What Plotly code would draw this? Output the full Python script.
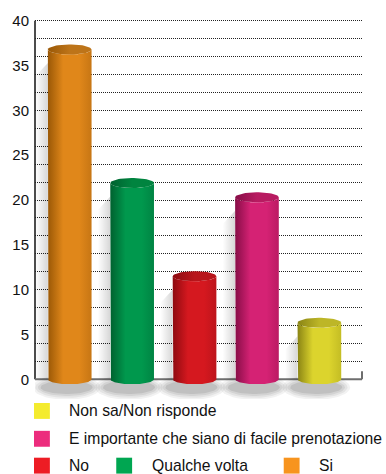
import numpy as np
import plotly.graph_objects as go

# Survey answers (percent), one cylinder per answer
categories = ["Si", "Qualche volta", "No",
              "E importante che siano di facile prenotazione",
              "Non sa/Non risponde"]
values = [36.8, 21.9, 11.5, 20.3, 6.3]

# Cylinder shading: (dark left edge, highlight, right edge, lid)
bar_shades = [
    ("#9a5806", "#e0871a", "#c77614", "#bd7419"),
    ("#00612f", "#00984d", "#008443", "#00843f"),
    ("#8e0a10", "#d5181f", "#bd141b", "#b8151b"),
    ("#870d47", "#d52274", "#bb1a63", "#b81b61"),
    ("#8a8414", "#dcd42d", "#c4bd24", "#bdb627"),
]
legend_colors = {
    "Si": "#f7941e",
    "Qualche volta": "#00a651",
    "No": "#ed1c24",
    "E importante che siano di facile prenotazione": "#ec2c7d",
    "Non sa/Non risponde": "#f4eb2e",
}

y_ticks = list(range(0, 41, 5))
grid_vals = list(range(2, 41, 2))

HALF_W = 0.35      # cylinder half width (x units)
LID_H = 0.56       # half height of the elliptical ends (y units)

W, H = 386, 474
ML, MR, MT, MB = 32, 24, 17, 75
PLOT_W = W - ML - MR
PLOT_H = H - MT - MB


def px_x(px):
    return (px - ML) / PLOT_W


def px_y(py):
    return (H - MB - py) / PLOT_H


fig = go.Figure()
t_back = np.linspace(np.pi, 2 * np.pi, 40)

# soft shadows below and to the left of every cylinder
for i, v in enumerate(values):
    xc = i
    # floor shadow
    for k, a in enumerate([0.05, 0.06, 0.07, 0.09]):
        sx = HALF_W * (1.55 - 0.12 * k)
        sy = 1.4 - 0.22 * k
        tt = np.linspace(0, 2 * np.pi, 60)
        fig.add_trace(go.Scatter(
            x=xc - 0.05 + sx * np.cos(tt), y=-0.9 + sy * np.sin(tt),
            fill="toself", fillcolor=f"rgba(0,0,0,{a})",
            line=dict(width=0), mode="lines", hoverinfo="skip",
            showlegend=False))
    # side shadow
    fig.add_trace(go.Scatter(
        x=[xc - HALF_W - 0.2, xc - HALF_W, xc - HALF_W, xc - HALF_W - 0.2],
        y=[0, 0, max(v - 1.5, 0), max(v - 3, 0)],
        fill="toself",
        fillgradient=dict(type="horizontal",
                          colorscale=[[0, "rgba(0,0,0,0)"],
                                      [1, "rgba(0,0,0,0.16)"]]),
        line=dict(width=0), mode="lines", hoverinfo="skip",
        showlegend=False))

# cylinder bodies and lids
for i, (v, shade) in enumerate(zip(values, bar_shades)):
    xc = i
    dark, light, edge, lid = shade
    bx = xc + HALF_W * np.cos(t_back)
    by = LID_H * np.sin(t_back)
    t_top = np.linspace(0, -np.pi, 40)
    tx = xc + HALF_W * np.cos(t_top)
    ty = v + LID_H * np.sin(t_top)
    xs = np.concatenate([[xc - HALF_W], bx, [xc + HALF_W], tx])
    ys = np.concatenate([[v], by, [v], ty])
    fig.add_trace(go.Scatter(
        x=xs, y=ys, fill="toself",
        fillgradient=dict(type="horizontal",
                          colorscale=[[0, dark], [0.35, light],
                                      [0.72, light], [1, edge]]),
        line=dict(width=0), mode="lines", name=categories[i],
        hovertemplate=f"{categories[i]}: {v}<extra></extra>",
        showlegend=False))
    tt = np.linspace(0, 2 * np.pi, 60)
    fig.add_trace(go.Scatter(
        x=xc + HALF_W * np.cos(tt), y=v + LID_H * np.sin(tt),
        fill="toself",
        fillgradient=dict(type="horizontal",
                          colorscale=[[0, dark], [0.5, lid], [1, lid]]),
        line=dict(width=0), mode="lines", hoverinfo="skip",
        showlegend=False))

shapes = [
    # value axis
    dict(type="line", xref="paper", yref="y", x0=0, x1=0, y0=0, y1=40,
         line=dict(color="#111111", width=1.5), layer="below"),
    # base line with closing tick
    dict(type="line", xref="paper", yref="y", x0=0, x1=1, y0=0, y1=0,
         line=dict(color="#6e6e6e", width=2), layer="below"),
    dict(type="line", xref="paper", yref="y", x0=1, x1=1, y0=0, y1=0.9,
         line=dict(color="#6e6e6e", width=2), layer="below"),
]

# legend: swatches and labels
legend_rows = [
    [("Non sa/Non risponde", 31, 67)],
    [("E importante che siano di facile prenotazione", 31, 67)],
    [("No", 31, 67), ("Qualche volta", 114, 151), ("Si", 283, 320)],
]
row_centers = [411, 439, 466]
annotations = []
for row, cy in zip(legend_rows, row_centers):
    for label, sx, tx in row:
        shapes.append(dict(
            type="rect", xref="paper", yref="paper",
            x0=px_x(sx), x1=px_x(sx + 16), y0=px_y(cy + 8), y1=px_y(cy - 8),
            fillcolor=legend_colors[label], line=dict(width=0)))
        annotations.append(dict(
            text=label, xref="paper", yref="paper",
            x=px_x(tx - 3), y=px_y(cy), xanchor="left", yanchor="middle",
            showarrow=False,
            font=dict(family="Liberation Sans, Arial", size=15.7,
                      color="#111111")))

fig.update_layout(
    width=W, height=H,
    margin=dict(l=ML, r=MR, t=MT, b=MB),
    paper_bgcolor="white", plot_bgcolor="white",
    showlegend=False,
    xaxis=dict(range=[-0.556, 4.683], visible=False, fixedrange=True),
    yaxis=dict(
        range=[-2.2, 40.2], tickmode="array", tickvals=y_ticks,
        ticktext=[str(t) for t in y_ticks], showgrid=False,
        zeroline=False, showline=False, ticks="", ticklabelstandoff=5,
        tickfont=dict(family="Liberation Sans, Arial", size=15,
                      color="#111111"),
        minor=dict(tickvals=grid_vals, showgrid=True, gridcolor="#222222",
                   gridwidth=1, griddash="1px,1px"),
        fixedrange=True,
    ),
    shapes=shapes,
    annotations=annotations,
)

fig.write_html("out.html")
